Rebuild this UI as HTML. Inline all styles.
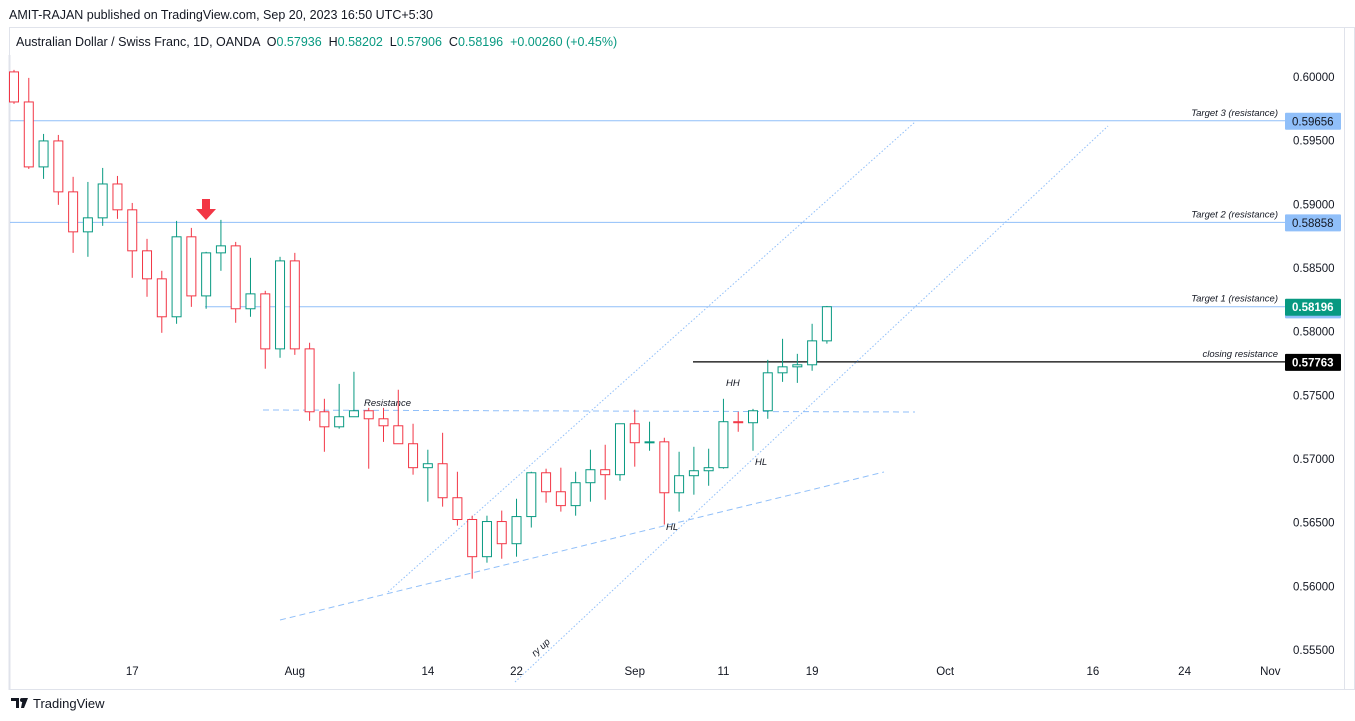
<!DOCTYPE html>
<html><head><meta charset="utf-8"><style>
body{margin:0;background:#fff;font-family:"Liberation Sans",sans-serif;}
#wrap{position:relative;width:1355px;height:721px;overflow:hidden;}
svg text{font-family:"Liberation Sans",sans-serif;}
</style></head><body>
<div id="wrap">
<svg id="chart" width="1355" height="721"></svg>
</div>
<script>
const opens=[.6004,.59804,.59294,.59498,.59098,.58784,.58894,.5916,.58957,.58635,.58415,.58117,.58745,.58281,.58619,.58674,.5818,.58297,.57865,.58556,.57865,.57371,.57253,.57332,.57379,.57316,.57261,.5712,.56932,.56963,.56696,.56525,.56233,.56509,.56335,.56548,.56892,.56743,.56634,.56814,.56916,.56877,.57277,.57128,.57135,.56735,.56869,.56908,.56932,.57293,.57285,.57379,.57677,.57724,.5774,.57928];
const highs=[.60056,.59993,.59553,.59545,.59216,.59176,.59286,.59223,.59011,.58729,.58478,.5887,.58815,.58627,.58878,.58705,.5858,.58321,.58588,.58619,.57913,.57473,.5759,.57685,.57402,.57402,.57544,.57277,.57073,.57206,.569,.56555,.56555,.56595,.56688,.569,.56924,.56932,.569,.57073,.57112,.57277,.57387,.57293,.57167,.57057,.57096,.57081,.57473,.57371,.57394,.57779,.57944,.57826,.58062,.58202];
const lows=[.59789,.59278,.592,.58996,.58619,.58588,.58831,.58886,.58423,.58274,.57991,.58062,.58195,.5818,.58478,.5807,.58117,.57709,.57795,.57818,.573,.57057,.57238,.57332,.56924,.57135,.5712,.56877,.56665,.56626,.56477,.5606,.56186,.56217,.56233,.56462,.56657,.56587,.56555,.56665,.5668,.56829,.5694,.57065,.56485,.56587,.5672,.5679,.56924,.57214,.57065,.57316,.57606,.57598,.57693,.57906];
const closes=[.59804,.59294,.59498,.59098,.58784,.58894,.5916,.58957,.58635,.58415,.58117,.58745,.58281,.58619,.58674,.5818,.58297,.57865,.58556,.57865,.57371,.57253,.57332,.57379,.57316,.57261,.5712,.56932,.56963,.56696,.56525,.56233,.56509,.56335,.56548,.56892,.56743,.56634,.56814,.56916,.56877,.57277,.57128,.57135,.56735,.56869,.56908,.56932,.57293,.57285,.57379,.57677,.57724,.5774,.57928,.58196];
const priceTicks=[0.6,0.595,0.59,0.585,0.58,0.575,0.57,0.565,0.56,0.555];
const dateLabels=["17","Aug","14","22","Sep","11","19","Oct","16","24","Nov"];
const dateIdx=[8,19,28,34,42,48,54,63,73,79.2,85];
const levelPrices=[0.59656,0.58858,0.58196];
const levelNames=["Target 3 (resistance)","Target 2 (resistance)","Target 1 (resistance)"];
const closingRes=0.57763;

const NS="http://www.w3.org/2000/svg";
const svg=document.getElementById('chart');
const Y=p=>77+(0.6-p)/0.005*63.67;
const X=i=>14+i*14.78;
function el(tag,attrs,parent){const e=document.createElementNS(NS,tag);for(const k in attrs)e.setAttribute(k,attrs[k]);(parent||svg).appendChild(e);return e;}
function txt(s,attrs){const t=el('text',attrs);t.textContent=s;return t;}

// frame
let f=el('rect',{x:9.5,y:27.5,width:1345,height:662,fill:'none',stroke:'#e0e3eb'});


el('line',{x1:1344.5,y1:27,x2:1344.5,y2:690,stroke:'#e0e3eb'});
el('line',{x1:9.5,y1:55,x2:9.5,y2:690,stroke:'#e0e3eb',"stroke-width":2});

// header
let h=txt('AMIT-RAJAN published on TradingView.com, Sep 20, 2023 16:50 UTC+5:30',{x:9,y:19,"font-size":12.5,fill:'#131722'});


let leg=el('text',{x:16,y:46,"font-size":12.5,fill:'#131722'});


leg.innerHTML='Australian Dollar / Swiss Franc, 1D, OANDA  O<tspan fill="#089981">0.57936</tspan>  H<tspan fill="#089981">0.58202</tspan>  L<tspan fill="#089981">0.57906</tspan>  C<tspan fill="#089981">0.58196</tspan>  <tspan fill="#089981">+0.00260 (+0.45%)</tspan>';
leg.setAttribute('xml:space','preserve');leg.style.whiteSpace='pre';

// drawings
const blue='#90bff9';
levelPrices.forEach((p,i)=>{
  const l=el('line',{x1:i==2?205:10,y1:Y(p),x2:1285,y2:Y(p),stroke:blue,"stroke-width":1});
  
  
  const t=txt(levelNames[i],{x:1278,y:Y(p)-5,"font-size":9.5,"font-style":'italic',fill:'#131722',"text-anchor":'end'});
  
  
});
let cl=el('line',{x1:693,y1:Y(closingRes),x2:1285,y2:Y(closingRes),stroke:'#000',"stroke-width":1.2});


let ct=txt('closing resistance',{x:1278,y:Y(closingRes)-5,"font-size":9.5,"font-style":'italic',fill:'#131722',"text-anchor":'end'});


let rl=el('line',{x1:263,y1:410,x2:915,y2:412,stroke:blue,"stroke-dasharray":'6,4'});


let tl=el('line',{x1:280,y1:620,x2:884,y2:472,stroke:blue,"stroke-dasharray":'6,4'});


let ch1=el('line',{x1:388,y1:592,x2:915,y2:122,stroke:blue,"stroke-dasharray":'1.5,2'});


let ch2=el('line',{x1:515,y1:682,x2:1108,y2:126,stroke:blue,"stroke-dasharray":'1.5,2'});


let ru=txt('ry up',{x:532,y:655,"font-size":9.5,"font-style":'italic',fill:'#131722',transform:'rotate(-43 536 652)'});


[['Resistance',364,406],['HH',726,386],['HL',755,465],['HL',666,530]].forEach(a=>{
  const t=txt(a[0],{x:a[1],y:a[2],"font-size":9.5,"font-style":'italic',fill:'#131722'});
  
  
});
let ar=el('polygon',{points:'202,199 210,199 210,209 216,209 206,220 196,209 202,209',fill:'#f23645'});



// candles
for(let i=0;i<opens.length;i++){
  const up=closes[i]>=opens[i];const c=up?'#089981':'#f23645';
  const g=el('g',{});
  
  
  const x=X(i);
  el('line',{x1:x,y1:Y(highs[i]),x2:x,y2:Y(lows[i]),stroke:c,"stroke-width":1},g);
  const top=Y(Math.max(opens[i],closes[i])),bot=Y(Math.min(opens[i],closes[i]));
  el('rect',{x:x-4.5,y:top,width:9,height:Math.max(bot-top,1),fill:'#fff',stroke:c,"stroke-width":1},g);
}

// axes
priceTicks.forEach(p=>{
  const t=txt(p.toFixed(5),{x:1293,y:Y(p)+4,"font-size":11.5,fill:'#131722'});
  
  
});
dateLabels.forEach((d,i)=>{
  const t=txt(d,{x:X(dateIdx[i]),y:675,"font-size":11.5,fill:'#131722',"text-anchor":'middle'});
  
  
});
// price labels
function badge(p,bg,fg,bold,name){
  const g=el('g',{});
  
  
  el('rect',{x:1285,y:Y(p)-8,width:56,height:17,fill:bg,rx:1},g);
  const t=el('text',{x:1292,y:Y(p)+4.5,"font-size":11.5,fill:fg,"font-weight":bold?'bold':'normal'},g);
  t.textContent=p.toFixed(5);
}
badge(0.59656,blue,'#131722',false,'target-3-price');
badge(0.58858,blue,'#131722',false,'target-2-price');
badge(0.58175,blue,'#131722',false,'target-1-price');
badge(0.58196,'#089981','#fff',true,'last-price');
badge(closingRes,'#000','#fff',true,'closing-resistance-price');

// footer
let lg=el('g',{});


el('path',{d:'M11 698h8v10h-3v-7h-5z M21 698h3 l-1 0 M23 698h5l-4 10h-3z',fill:'#131722'},lg);
el('circle',{cx:22,cy:700,r:2,fill:'#131722'},lg);
const ft=el('text',{x:33,y:708,"font-size":13,fill:'#131722'},lg);ft.textContent='TradingView';
</script>
</body></html>
